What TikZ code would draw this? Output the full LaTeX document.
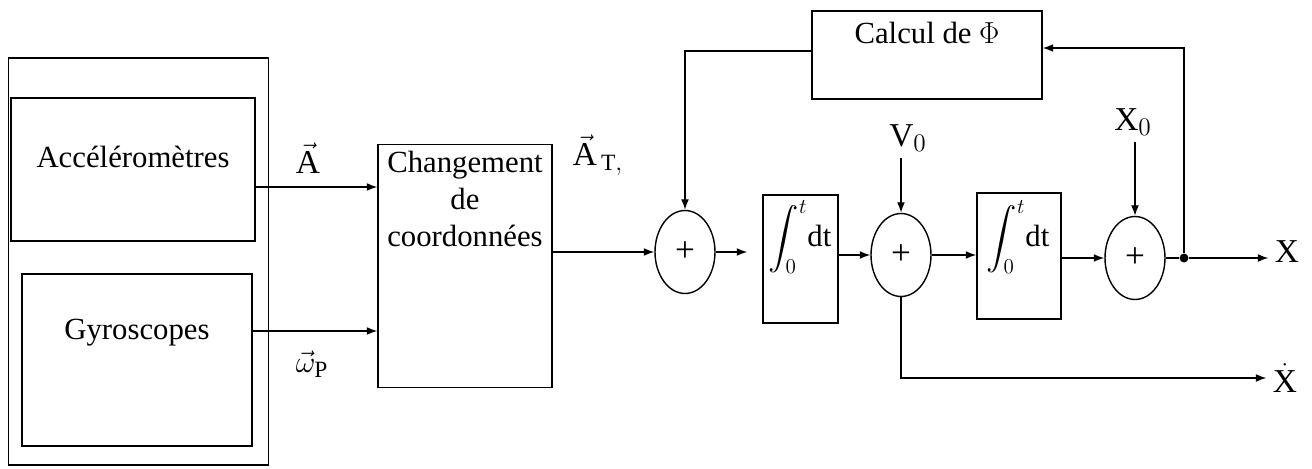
\documentclass[tikz,border=0pt]{standalone}
\usepackage{amsmath}
\usepackage{fontspec}
\setmainfont{Liberation Serif}
\usepackage{tikz}
\usetikzlibrary{arrows.meta,positioning,shapes.geometric}

\begin{document}
\begin{tikzpicture}[
                x=0.02cm, y=-0.02cm,
                line width=0.8pt,
                bloc/.style={
                        draw=black,
                        line width=0.8pt,
                        inner sep=0pt
                    },
                somme/.style={
                        draw=black,
                        ellipse,
                        inner sep=0pt,
                        minimum width=1.2cm,
                        minimum height=1.66cm,
                        font=\fontsize{20}{22}\selectfont
                    },
                texte/.style={font=\fontsize{17.5}{21}\selectfont, align=center},
                signal/.style={font=\fontsize{19}{22}\selectfont},
                fleche/.style={-{Latex[length=6pt,width=4.5pt]}}
            ]

            \useasboundingbox (0,0) rectangle (1312,469);

            % Capteurs
            \node[bloc, minimum width=5.2cm, minimum height=8.14cm] (capteurs) at (138.5,261.5) {};
            \node[bloc, minimum width=4.88cm, minimum height=2.86cm] (acc) at (133,169.5) {};
            \node[texte] (acctxt) at (133,157) {Accéléromètres};
            \node[bloc, minimum width=4.6cm, minimum height=3.44cm] (gyro) at (137,360) {};
            \node[texte] (gyrotxt) at (137,333) {Gyroscopes};

            % Changement de coordonnées
            \node[bloc, minimum width=3.48cm, minimum height=4.86cm] (change) at (465,266) {};
            \node[texte] (changetxt) at (465,199) {Changement\\de\\coordonnées};

            % Sommateurs et intégrateurs
            \node[somme] (sum1) at (685,252) {+};
            \node[bloc, minimum width=1.5cm, minimum height=2.56cm] (int1) at (800.5,259) {};
            \node[texte] (int1txt) at (800,237) {$\displaystyle\int_0^t\!\mathrm{dt}$};
            \node[somme] (sum2) at (901,255) {+};
            \node[bloc, minimum width=1.68cm, minimum height=2.52cm] (int2) at (1019,256) {};
            \node[texte] (int2txt) at (1018,237) {$\displaystyle\int_0^t\!\mathrm{dt}$};
            \node[somme] (sum3) at (1135,258) {+};

            % Calcul de Phi
            \node[bloc, minimum width=4.6cm, minimum height=1.76cm] (calcul) at (927,55) {};
            \node[texte] (calcultxt) at (927,33) {Calcul de $\Phi$};

            % Signaux
            \node[signal] (lblA) at (308,158) {$\vec{\mathrm{A}}$};
            \node[signal] (lblw) at (312,364) {$\vec{\omega}_{\mathrm{P}}$};
            \node[signal] (lblAT) at (598,155) {$\vec{\mathrm{A}}_{\,\mathrm{T},}$};
            \node[signal] (v0) at (908,138) {V$_0$};
            \node[signal] (x0) at (1133,122) {X$_0$};
            \node[signal] (xout) at (1287,252) {X};
            \node[signal] (xdot) at (1285,378) {$\dot{\mathrm{X}}$};
            \node[circle, fill=black, inner sep=1.8pt] (jct) at (1184,258) {};

            % Liaisons
            \draw[fleche] ([yshift=-0.35cm]acc.east) -- ([yshift=-0.35cm]acc.east -| change.west);
            \draw[fleche] ([yshift=0.58cm]gyro.east) -- ([yshift=0.58cm]gyro.east -| change.west);
            \draw[fleche] (change.east |- sum1) -- (sum1.west);
            \draw[fleche, shorten >=0.3cm] (sum1.east) -- (sum1.east -| int1.west);
            \draw[fleche] (int1.east |- sum2) -- (sum2.west);
            \draw[fleche] (sum2.east) -- (sum2.east -| int2.west);
            \draw[fleche] (int2.east |- sum3) -- (sum3.west);
            \draw (sum3.east) -- (jct);
            \draw[fleche] (jct) -- (jct -| xout.west);
            \draw[fleche] (jct) |- ([yshift=0.14cm]calcul.east);
            \draw[fleche] ([yshift=0.08cm]calcul.west) -| (sum1.north);
            \draw[fleche] (v0.south -| sum2.north) -- (sum2.north);
            \draw[fleche] (x0.south -| sum3.north) -- (sum3.north);
            \draw[fleche] (sum2.south) |- (xdot.west);

        \end{tikzpicture}
\end{document}
